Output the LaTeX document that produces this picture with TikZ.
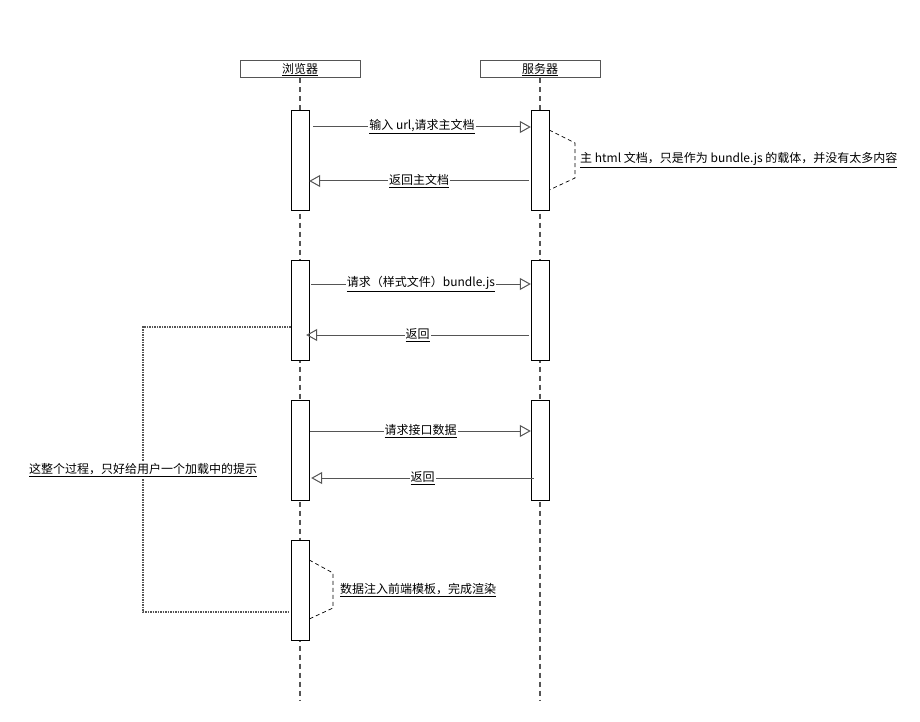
\documentclass[tikz,border=0pt]{standalone}
\usepackage{fontspec}
\setmainfont{Noto Sans CJK SC}
\usetikzlibrary{arrows.meta}
\definecolor{linegray}{RGB}{85,85,85}

\begin{document}
\begin{tikzpicture}[x=1pt,y=-1pt,
  head/.style={draw=linegray, line width=1pt, fill=white, minimum width=120pt, minimum height=17pt, inner sep=0pt, font=\fontsize{12}{14}\selectfont},
  act/.style={draw=black, fill=white, minimum width=18pt, minimum height=100pt, inner sep=0pt},
  life/.style={draw=linegray, line width=1.2pt, dash pattern=on 5pt off 4pt},
  msg/.style={draw=linegray, line width=1pt, -{Triangle[open, length=11pt, width=12pt]}},
  lbl/.style={fill=white, inner sep=1pt, font=\fontsize{12}{14}\selectfont},
  note/.style={draw=black, line width=0.7pt, dash pattern=on 4pt off 3pt},
  loop/.style={draw=linegray, line width=1.5pt, dash pattern=on 1.5pt off 1pt},
]
  \useasboundingbox (0,0) rectangle (920,722);

  % Lifelines
  \node[head] (browser) at (300,69.5) {\underline{浏览器}};
  \node[head] (server) at (540,69.5) {\underline{服务器}};
  \coordinate (browserEnd) at (300,700);
  \coordinate (serverEnd) at (540,700);
  \draw[life] (browser.south) -- (browserEnd);
  \draw[life] (server.south) -- (serverEnd);

  % Activation boxes
  \node[act] (b1) at (300,160) {};
  \node[act] (b2) at (300,310) {};
  \node[act] (b3) at (300,450) {};
  \node[act] (b4) at (300,590) {};
  \node[act] (s1) at (540,160) {};
  \node[act] (s2) at (540,310) {};
  \node[act] (s3) at (540,450) {};

  % Messages
  \draw[msg] ([xshift=4pt]b1.east |- 0,127) -- (s1.west |- 0,127)
    node[lbl, midway] {\underline{输入 url,请求主文档}};
  \draw[msg] ([xshift=-2pt]s1.west |- 0,181) -- (b1.east |- 0,181)
    node[lbl, midway] {\underline{返回主文档}};
  \draw[msg] ([xshift=2pt]b2.east |- 0,284) -- (s2.west |- 0,284)
    node[lbl, midway] {\underline{请求（样式文件）bundle.js}};
  \draw[msg] ([xshift=-2pt]s2.west |- 0,335) -- ([xshift=-3pt]b2.east |- 0,335)
    node[lbl, midway] {\underline{返回}};
  \draw[msg] ([xshift=1pt]b3.east |- 0,431) -- (s3.west |- 0,431)
    node[lbl, midway] {\underline{请求接口数据}};
  \draw[msg] ([xshift=3pt]s3.west |- 0,478) -- ([xshift=2pt]b3.east |- 0,478)
    node[lbl, midway] {\underline{返回}};

  % Notes
  \draw[note] (s1.east |- 0,130) -- (575,143) -- (575,178) -- (s1.east |- 0,190);
  \node[lbl, fill=none, anchor=west] (serverNote) at (579,160)
    {\underline{主 html 文档，只是作为 bundle.js 的载体，并没有太多内容}};
  \draw[note] (b4.east |- 0,560) -- (333,573) -- (333,608) -- (b4.east |- 0,619);
  \node[lbl, fill=none, anchor=west] (renderNote) at (339,590)
    {\underline{数据注入前端模板，完成渲染}};

  % Loading span
  \draw[loop] (b2.west |- 0,327) -- (143,327) -- (143,612) -- ([xshift=-2pt]b4.west |- 0,612);
  \node[lbl, anchor=west] (loadNote) at (28,470)
    {\underline{这整个过程，只好给用户一个加载中的提示}};
\end{tikzpicture}
\end{document}
